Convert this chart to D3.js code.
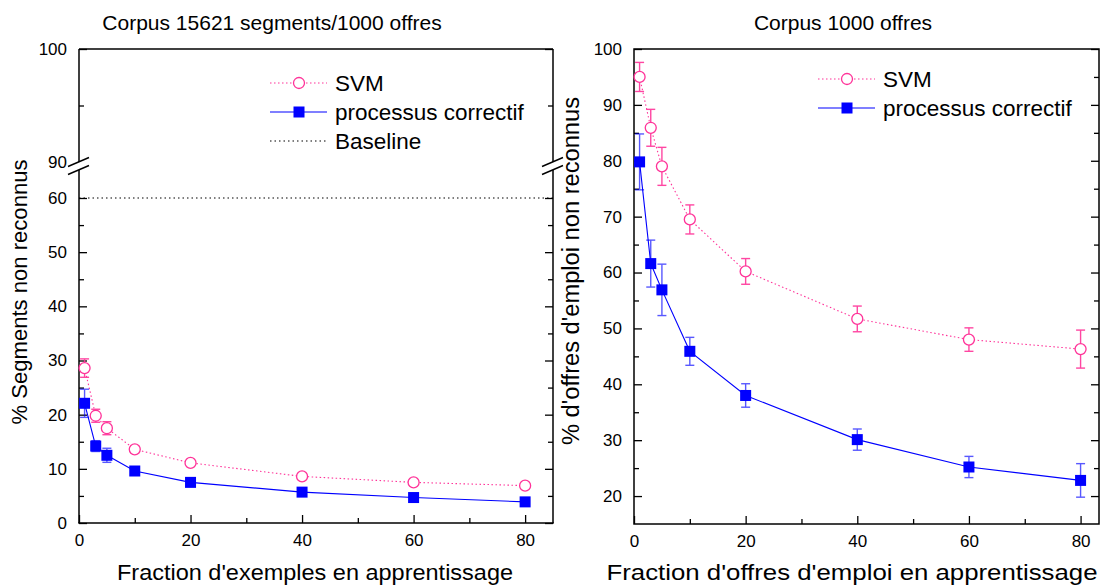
<!DOCTYPE html>
<html><head><meta charset="utf-8">
<script src="https://cdn.jsdelivr.net/npm/d3@7"></script>
<style>
body{margin:0;background:#fff}
svg{display:block}
text{font-family:Arial,"Liberation Sans",sans-serif;fill:#000}
</style>
</head><body>
<svg id="c" width="1102" height="585"></svg>
<script>
// ---------------- data ----------------
const xFractions = [1, 3, 5, 10, 20, 40, 60, 80];
const seriesNames = ["SVM", "processus correctif", "Baseline"];

const leftSvm      = [28.6, 19.8, 17.5, 13.6, 11.1, 8.6, 7.5, 6.9];
const leftSvmErr   = [1.7, 1.2, 1.2, 0.6, 0.4, 0.4, 0.4, 0.4];
const leftCorr     = [22.1, 14.2, 12.5, 9.6, 7.5, 5.7, 4.7, 3.9];
const leftCorrErr  = [2.6, 1.0, 1.3, 0.3, 0.3, 0.3, 0.3, 0.3];
const leftBaseline = 60;

const rightSvm     = [95.0, 85.9, 79.0, 69.5, 60.2, 51.7, 48.0, 46.3];
const rightSvmErr  = [2.6, 3.3, 3.4, 2.6, 2.3, 2.3, 2.1, 3.4];
const rightCorr    = [79.8, 61.6, 56.9, 45.9, 38.0, 30.1, 25.2, 22.8];
const rightCorrErr = [5.0, 4.2, 4.6, 2.5, 2.1, 1.9, 1.9, 3.0];

const xMajorTicks = [0, 20, 40, 60, 80];
const xMinorTicks = [10, 30, 50, 70];
const leftLowMajor  = [0, 10, 20, 30, 40, 50, 60];
const leftLowMinor  = [5, 15, 25, 35, 45, 55];
const leftHighMajor = [90, 100];
const leftHighMinor = [95];
const rightMajor = [20, 30, 40, 50, 60, 70, 80, 90, 100];
const rightMinor = [25, 35, 45, 55, 65, 75, 85, 95];

const leftTitle  = "Corpus 15621 segments/1000 offres";
const rightTitle = "Corpus 1000 offres";
const leftXLabel  = "Fraction d'exemples en apprentissage";
const rightXLabel = "Fraction d'offres d'emploi en apprentissage";
const leftYLabel  = "% Segments non reconnus";
const rightYLabel = "% d'offres d'emploi non reconnus";

// ---------------- styles ----------------
const PINK = "#ff3399";
const BLUE = "#0000ff";
const svg = d3.select("#c");

function styleAxis(g, size) {
  g.attr("font-size", size).attr("font-family", "Arial, 'Liberation Sans', sans-serif");
  g.select(".domain").remove();
  g.selectAll(".tick line").attr("stroke", "#000").attr("stroke-width", 1.3);
  g.selectAll(".tick text").attr("fill", "#000");
}

function drawSeries(g, x, y, vals, errs, kind) {
  const color = kind === "svm" ? PINK : BLUE;
  const line = d3.line().x((d, i) => x(xFractions[i])).y(d => y(d));
  g.append("path").datum(vals).attr("d", line).attr("fill", "none")
    .attr("stroke", color).attr("stroke-width", 1.1)
    .attr("stroke-dasharray", kind === "svm" ? "1.5,2.5" : null);
  const eb = g.append("g").attr("stroke", color).attr("stroke-width", 1.4)
    .attr("opacity", kind === "svm" ? 0.9 : 0.65);
  vals.forEach((v, i) => {
    const cx = x(xFractions[i]);
    const y1 = y(v + errs[i]), y2 = y(v - errs[i]);
    eb.append("line").attr("x1", cx).attr("x2", cx).attr("y1", y1).attr("y2", y2);
    eb.append("line").attr("x1", cx - 4.5).attr("x2", cx + 4.5).attr("y1", y1).attr("y2", y1);
    eb.append("line").attr("x1", cx - 4.5).attr("x2", cx + 4.5).attr("y1", y2).attr("y2", y2);
  });
  vals.forEach((v, i) => {
    const cx = x(xFractions[i]), cy = y(v);
    if (kind === "svm") {
      g.append("circle").attr("cx", cx).attr("cy", cy).attr("r", 5.5)
        .attr("fill", "#fff").attr("stroke", PINK).attr("stroke-width", 1.3);
    } else {
      g.append("rect").attr("x", cx - 5.5).attr("y", cy - 5.5).attr("width", 11).attr("height", 11)
        .attr("fill", BLUE);
    }
  });
}

function legendRow(g, x0, y0, kind, label) {
  if (kind === "svm") {
    g.append("line").attr("x1", x0).attr("x2", x0 + 57).attr("y1", y0).attr("y2", y0)
      .attr("stroke", PINK).attr("stroke-width", 1.1).attr("stroke-dasharray", "1.5,2.5");
    g.append("circle").attr("cx", x0 + 29).attr("cy", y0).attr("r", 5.5)
      .attr("fill", "#fff").attr("stroke", PINK).attr("stroke-width", 1.3);
  } else if (kind === "corr") {
    g.append("line").attr("x1", x0).attr("x2", x0 + 57).attr("y1", y0).attr("y2", y0)
      .attr("stroke", BLUE).attr("stroke-width", 1.1);
    g.append("rect").attr("x", x0 + 23.5).attr("y", y0 - 5.5).attr("width", 11).attr("height", 11)
      .attr("fill", BLUE);
  } else {
    g.append("line").attr("x1", x0).attr("x2", x0 + 57).attr("y1", y0).attr("y2", y0)
      .attr("stroke", "#000").attr("stroke-width", 1.1).attr("stroke-dasharray", "1.5,3");
  }
  g.append("text").attr("x", x0 + 65).attr("y", y0 + 8).attr("font-size", 22.5).text(label);
}

function breakMark(g, cx, cy) {
  [-8, 0].forEach(dy => {
    g.append("line").attr("x1", cx - 11).attr("y1", cy + 4.5 + dy + 4)
      .attr("x2", cx + 10).attr("y2", cy - 4.5 + dy + 4)
      .attr("stroke", "#000").attr("stroke-width", 1.4);
  });
}

function fitText(g, attrs, size, len, str) {
  const t = g.append("text").attr("font-size", size).attr("text-anchor", "middle")
    .attr("textLength", len).attr("lengthAdjust", "spacingAndGlyphs").text(str);
  Object.entries(attrs).forEach(([k, v]) => t.attr(k, v));
  return t;
}

// ---------------- LEFT PANEL ----------------
{
  const L = 79, R = 553, T = 49, B = 523;
  const x = d3.scaleLinear().domain([0, 85]).range([L, R]);
  const yLow = d3.scaleLinear().domain([0, 60]).range([B, 198]);
  const yHigh = d3.scaleLinear().domain([90, 100]).range([162, T]);
  const g = svg.append("g");

  g.append("line").attr("x1", L).attr("x2", R)
    .attr("y1", yLow(leftBaseline)).attr("y2", yLow(leftBaseline))
    .attr("stroke", "#000").attr("stroke-width", 1.1).attr("stroke-dasharray", "1.5,3");

  const gx = g.append("g").attr("transform", `translate(0,${B})`)
    .call(d3.axisBottom(x).tickValues(xMajorTicks).tickSize(-8).tickPadding(11).tickFormat(d3.format("d")));
  styleAxis(gx, 17);
  const gxm = g.append("g").attr("transform", `translate(0,${B})`)
    .call(d3.axisBottom(x).tickValues(xMinorTicks).tickSize(-5).tickFormat(""));
  styleAxis(gxm, 17);

  const gyl = g.append("g").attr("transform", `translate(${L},0)`)
    .call(d3.axisLeft(yLow).tickValues(leftLowMajor).tickSize(-8).tickPadding(12));
  styleAxis(gyl, 17);
  const gylm = g.append("g").attr("transform", `translate(${L},0)`)
    .call(d3.axisLeft(yLow).tickValues(leftLowMinor).tickSize(-5).tickFormat(""));
  styleAxis(gylm, 17);
  const gyh = g.append("g").attr("transform", `translate(${L},0)`)
    .call(d3.axisLeft(yHigh).tickValues(leftHighMajor).tickSize(-8).tickPadding(12));
  styleAxis(gyh, 17);
  gyh.selectAll(".tick").filter(d => d === 90).select("line").remove();
  const gyhm = g.append("g").attr("transform", `translate(${L},0)`)
    .call(d3.axisLeft(yHigh).tickValues(leftHighMinor).tickSize(-5).tickFormat(""));
  styleAxis(gyhm, 17);

  const gr1 = g.append("g").attr("transform", `translate(${R},0)`)
    .call(d3.axisRight(yLow).tickValues(leftLowMajor).tickSize(-8).tickFormat(""));
  styleAxis(gr1, 17);
  const gr2 = g.append("g").attr("transform", `translate(${R},0)`)
    .call(d3.axisRight(yLow).tickValues(leftLowMinor).tickSize(-5).tickFormat(""));
  styleAxis(gr2, 17);
  const gr3 = g.append("g").attr("transform", `translate(${R},0)`)
    .call(d3.axisRight(yHigh).tickValues([100]).tickSize(-8).tickFormat(""));
  styleAxis(gr3, 17);
  const gr4 = g.append("g").attr("transform", `translate(${R},0)`)
    .call(d3.axisRight(yHigh).tickValues(leftHighMinor).tickSize(-5).tickFormat(""));
  styleAxis(gr4, 17);

  const fr = g.append("g").attr("stroke", "#000").attr("stroke-width", 1.5).attr("fill", "none");
  fr.append("line").attr("x1", L).attr("x2", R).attr("y1", T).attr("y2", T);
  fr.append("line").attr("x1", L - 0.75).attr("x2", R + 0.75).attr("y1", B).attr("y2", B);
  [L, R].forEach(xx => {
    fr.append("line").attr("x1", xx).attr("x2", xx).attr("y1", T).attr("y2", 162);
    fr.append("line").attr("x1", xx).attr("x2", xx).attr("y1", 170).attr("y2", B);
    breakMark(g, xx, 166);
  });

  drawSeries(g, x, yLow, leftSvm, leftSvmErr, "svm");
  drawSeries(g, x, yLow, leftCorr, leftCorrErr, "corr");

  const lg = g.append("g");
  legendRow(lg, 270, 83, "svm", seriesNames[0]);
  legendRow(lg, 270, 112, "corr", seriesNames[1]);
  legendRow(lg, 270, 141, "base", seriesNames[2]);

  g.append("text").attr("x", 272).attr("y", 30).attr("text-anchor", "middle").attr("font-size", 21).text(leftTitle);
  fitText(g, {x: 315, y: 580}, 22, 396, leftXLabel);
  fitText(g, {transform: "translate(27,292) rotate(-90)"}, 22, 265, leftYLabel);
}

// ---------------- RIGHT PANEL ----------------
{
  const L = 634, R = 1099, T = 49, B = 524;
  const x = d3.scaleLinear().domain([0, 83.3]).range([L, R]);
  const y = d3.scaleLinear().domain([15, 100]).range([B, T]);
  const g = svg.append("g");

  const gx = g.append("g").attr("transform", `translate(0,${B})`)
    .call(d3.axisBottom(x).tickValues(xMajorTicks).tickSize(-8).tickPadding(11).tickFormat(d3.format("d")));
  styleAxis(gx, 17);
  const gxm = g.append("g").attr("transform", `translate(0,${B})`)
    .call(d3.axisBottom(x).tickValues(xMinorTicks).tickSize(-5).tickFormat(""));
  styleAxis(gxm, 17);
  const gy = g.append("g").attr("transform", `translate(${L},0)`)
    .call(d3.axisLeft(y).tickValues(rightMajor).tickSize(-8).tickPadding(12));
  styleAxis(gy, 17);
  const gym = g.append("g").attr("transform", `translate(${L},0)`)
    .call(d3.axisLeft(y).tickValues(rightMinor).tickSize(-5).tickFormat(""));
  styleAxis(gym, 17);
  const gr1 = g.append("g").attr("transform", `translate(${R},0)`)
    .call(d3.axisRight(y).tickValues(rightMajor).tickSize(-8).tickFormat(""));
  styleAxis(gr1, 17);
  const gr2 = g.append("g").attr("transform", `translate(${R},0)`)
    .call(d3.axisRight(y).tickValues(rightMinor).tickSize(-5).tickFormat(""));
  styleAxis(gr2, 17);

  g.append("rect").attr("x", L).attr("y", T).attr("width", R - L).attr("height", B - T)
    .attr("fill", "none").attr("stroke", "#000").attr("stroke-width", 1.5);

  drawSeries(g, x, y, rightSvm, rightSvmErr, "svm");
  drawSeries(g, x, y, rightCorr, rightCorrErr, "corr");

  const lg = g.append("g");
  legendRow(lg, 818, 79, "svm", seriesNames[0]);
  legendRow(lg, 818, 108, "corr", seriesNames[1]);

  g.append("text").attr("x", 843).attr("y", 30).attr("text-anchor", "middle").attr("font-size", 21).text(rightTitle);
  fitText(g, {x: 852, y: 580}, 22, 491, rightXLabel);
  fitText(g, {transform: "translate(579,271) rotate(-90)"}, 23, 348, rightYLabel);
}
</script>
</body></html>
